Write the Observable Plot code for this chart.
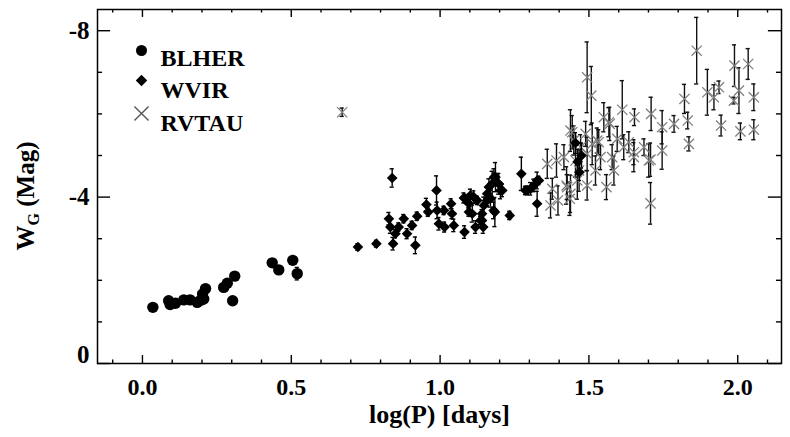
<!DOCTYPE html>
<html>
<head>
<meta charset="utf-8">
<script src="https://cdn.jsdelivr.net/npm/d3@7"></script>
<script src="https://cdn.jsdelivr.net/npm/@observablehq/plot@0.6"></script>
<style>
  html, body { margin: 0; padding: 0; background: #fff; }
  #chart svg { display: block; }
</style>
</head>
<body>
<div id="chart"></div>
<script>
// ---------------- data ----------------
const blherP = [0.035, 0.088, 0.093, 0.111, 0.139, 0.160, 0.184, 0.196, 0.202, 0.206, 0.212, 0.273, 0.285, 0.310, 0.303, 0.436, 0.458, 0.505, 0.520];
const blherW = [-1.35, -1.51, -1.42, -1.45, -1.53, -1.53, -1.47, -1.52, -1.67, -1.55, -1.80, -1.83, -1.93, -2.10, -1.51, -2.42, -2.25, -2.48, -2.16];
const blherE = [0.04, 0.04, 0.04, 0.04, 0.04, 0.04, 0.08, 0.05, 0.05, 0.05, 0.05, 0.05, 0.05, 0.05, 0.06, 0.05, 0.05, 0.05, 0.15];

const wvirP = [0.724, 0.786, 0.839, 0.828, 0.833, 0.842, 0.850, 0.861, 0.878, 0.889, 0.906, 0.917, 0.923, 0.954, 0.960, 0.988, 0.990, 0.996, 1.013, 1.015,
               1.037, 1.040, 1.046, 1.080, 1.082, 1.097, 1.102, 1.108, 1.119, 1.125, 1.141, 1.145, 1.147, 1.158, 1.164, 1.169, 1.180, 1.186, 1.197, 1.203,
               1.234, 1.273, 1.293, 1.304, 1.315, 1.326, 1.326, 1.085, 1.097, 1.113, 1.136, 1.141, 1.158, 1.175, 1.181, 1.184, 1.209, 1.287, 1.332,
               1.455, 1.462, 1.468, 1.475];
const wvirW = [-2.80, -2.88, -4.46, -3.48, -3.28, -2.88, -3.12, -3.28, -3.48, -3.12, -3.32, -2.84, -3.54, -3.82, -3.64, -4.16, -3.68, -3.36, -3.68, -3.28,
               -3.84, -3.60, -3.32, -3.98, -3.16, -3.84, -4.04, -3.60, -3.28, -3.92, -3.44, -3.28, -3.80, -4.08, -4.24, -3.96, -3.68, -4.48, -4.32, -4.16,
               -3.56, -4.56, -4.16, -4.20, -4.28, -4.40, -3.84, -3.96, -3.64, -4.00, -3.44, -3.60, -3.92, -4.32, -4.48, -3.64, -4.16, -4.16, -4.40,
               -5.30, -4.85, -4.60, -5.00];
const wvirE = [0.08, 0.08, 0.22, 0.15, 0.15, 0.15, 0.10, 0.10, 0.10, 0.12, 0.10, 0.20, 0.10, 0.15, 0.10, 0.35, 0.20, 0.15, 0.10, 0.12,
               0.12, 0.12, 0.15, 0.12, 0.15, 0.10, 0.15, 0.20, 0.15, 0.10, 0.15, 0.15, 0.20, 0.15, 0.20, 0.20, 0.20, 0.35, 0.25, 0.20,
               0.10, 0.40, 0.10, 0.15, 0.15, 0.20, 0.30, 0.10, 0.10, 0.15, 0.10, 0.10, 0.15, 0.30, 0.20, 0.35, 0.15, 0.10, 0.10,
               0.25, 0.30, 0.20, 0.30];

const rvtauP = [0.671, 1.360, 1.377, 1.371, 1.391, 1.396, 1.416, 1.425, 1.436, 1.438, 1.449, 1.455, 1.461, 1.467, 1.472, 1.489, 1.494, 1.508, 1.494, 1.494,
                1.522, 1.528, 1.539, 1.550, 1.559, 1.570, 1.578, 1.584, 1.595, 1.612, 1.617, 1.634, 1.651, 1.653, 1.685, 1.709, 1.707, 1.707, 1.746, 1.746,
                1.786, 1.821, 1.832, 1.836, 1.862, 1.898, 1.920, 1.937, 1.944, 1.987, 1.989, 2.004, 2.009, 2.035, 2.054, 2.054,
                1.427, 1.438, 1.444, 1.511, 1.533, 1.567, 1.701, 1.651];
const rvtauW = [-6.04, -4.80, -4.20, -3.80, -4.88, -3.92, -4.96, -4.28, -3.96, -5.60, -5.36, -4.88, -4.40, -4.64, -5.20, -5.52, -6.88, -6.44, -4.28, -5.04,
                -4.64, -5.36, -4.96, -5.92, -4.24, -5.76, -4.96, -4.64, -5.40, -6.10, -5.20, -5.32, -5.08, -5.92, -5.20, -6.00, -4.90, -3.85, -5.68, -5.12,
                -5.76, -6.36, -5.84, -5.28, -7.52, -6.52, -6.40, -6.64, -5.72, -6.32, -7.16, -6.56, -5.58, -7.20, -6.40, -5.62,
                -4.24, -4.08, -5.56, -5.28, -5.32, -5.80, -4.88, -4.96];
const rvtauE = [0.10, 0.35, 0.25, 0.30, 0.40, 0.35, 0.30, 0.45, 0.40, 0.50, 0.35, 0.40, 0.45, 0.50, 0.30, 0.30, 0.85, 0.70, 0.35, 0.40,
                0.35, 0.30, 0.30, 0.35, 0.30, 0.40, 0.30, 0.35, 0.30, 0.70, 0.30, 0.25, 0.30, 0.20, 0.20, 0.40, 0.40, 0.50, 0.40, 0.45,
                0.20, 0.35, 0.20, 0.17, 0.80, 0.55, 0.30, 0.15, 0.25, 0.08, 0.50, 0.55, 0.20, 0.37, 0.32, 0.24,
                0.30, 0.45, 0.40, 0.50, 0.30, 0.35, 0.40, 0.35];

const xMajorTicks = [0, 0.5, 1.0, 1.5, 2.0];
const xMinorTicks = [-0.1, 0.1, 0.2, 0.3, 0.4, 0.6, 0.7, 0.8, 0.9, 1.1, 1.2, 1.3, 1.4, 1.6, 1.7, 1.8, 1.9, 2.1];
const yMajorTicks = [-8, -4, 0];
const yMinorTicks = [-7, -6, -5, -3, -2, -1];
const legendLabels = ["BLHER", "WVIR", "RVTAU"];
const xTitle = "log(P) [days]";

// ---------------- build tables ----------------
const mk = (P, W, E) => P.map((p, i) => ({p, w: W[i], e: E[i]}));
const blher = mk(blherP, blherW, blherE);
const wvir = mk(wvirP, wvirW, wvirE);
const rvtau = mk(rvtauP, rvtauW, rvtauE);

const xDomain = [-0.151, 2.147];
const yDomain = [0, -8.51];
const capHalf = 0.007;     // half width of error-bar caps (x units)
const xTickMaj = 0.19, xTickMin = 0.085;   // lengths in y units
const yTickMaj = 0.044, yTickMin = 0.017;  // lengths in x units

const FONT = "'Liberation Serif', 'Times New Roman', serif";

function errMarks(data, stroke) {
  return [
    Plot.ruleX(data, {x: "p", y1: d => d.w - d.e, y2: d => d.w + d.e, stroke, strokeWidth: 1.4}),
    Plot.ruleY(data, {y: d => d.w - d.e, x1: d => d.p - capHalf, x2: d => d.p + capHalf, stroke, strokeWidth: 1.4}),
    Plot.ruleY(data, {y: d => d.w + d.e, x1: d => d.p - capHalf, x2: d => d.p + capHalf, stroke, strokeWidth: 1.4})
  ];
}

const legendText = (i) => Plot.text([legendLabels[i]], {
  frameAnchor: "top-left", dx: 63, dy: [39, 71, 104][i], text: d => d, textAnchor: "start",
  fontSize: 24, fontWeight: "bold", fill: "#000"
});

const plot = Plot.plot({
  width: 790,
  height: 437,
  marginLeft: 97,
  marginRight: 9,
  marginTop: 9,
  marginBottom: 74,
  style: {fontFamily: FONT, background: "#fff", overflow: "visible"},
  x: {domain: xDomain, axis: null},
  y: {domain: yDomain, axis: null},
  marks: [
    // ticks (inward) on all four sides
    Plot.ruleX(xMajorTicks, {x: d => d, y1: yDomain[0], y2: yDomain[0] - xTickMaj, stroke: "#000", strokeWidth: 1.4}),
    Plot.ruleX(xMinorTicks, {x: d => d, y1: yDomain[0], y2: yDomain[0] - xTickMin, stroke: "#000", strokeWidth: 1.4}),
    Plot.ruleX(xMajorTicks, {x: d => d, y1: yDomain[1], y2: yDomain[1] + xTickMaj, stroke: "#000", strokeWidth: 1.4}),
    Plot.ruleX(xMinorTicks, {x: d => d, y1: yDomain[1], y2: yDomain[1] + xTickMin, stroke: "#000", strokeWidth: 1.4}),
    Plot.ruleY(yMajorTicks, {y: d => d, x1: xDomain[0], x2: xDomain[0] + yTickMaj, stroke: "#000", strokeWidth: 1.4}),
    Plot.ruleY(yMinorTicks, {y: d => d, x1: xDomain[0], x2: xDomain[0] + yTickMin, stroke: "#000", strokeWidth: 1.4}),
    Plot.ruleY(yMajorTicks, {y: d => d, x1: xDomain[1], x2: xDomain[1] - yTickMaj, stroke: "#000", strokeWidth: 1.4}),
    Plot.ruleY(yMinorTicks, {y: d => d, x1: xDomain[1], x2: xDomain[1] - yTickMin, stroke: "#000", strokeWidth: 1.4}),

    // tick labels
    Plot.text(xMajorTicks, {x: d => d, frameAnchor: "bottom", dy: 31, text: d => d3.format(".1f")(d),
      fontSize: 24, fontWeight: "bold", fill: "#000"}),
    Plot.text(yMajorTicks.filter(d => d !== 0), {y: d => d, frameAnchor: "left", dx: -8, textAnchor: "end",
      text: d => String(d), fontSize: 25, fontWeight: "bold", fill: "#000"}),
    Plot.text(yMajorTicks.filter(d => d === 0), {y: d => d, frameAnchor: "left", dx: -8, dy: -9, textAnchor: "end",
      text: d => String(d), fontSize: 25, fontWeight: "bold", fill: "#000"}),

    // x axis title
    Plot.text([xTitle], {frameAnchor: "bottom", dy: 59, text: d => d, fontSize: 26, fontWeight: "bold", fill: "#000"}),

    // data: RVTAU
    ...errMarks(rvtau, "#111"),
    Plot.dot(rvtau, {x: "p", y: "w", symbol: "times", r: 4.7, stroke: "#808080", strokeWidth: 1.3}),
    // WVIR
    ...errMarks(wvir, "#000"),
    Plot.dot(wvir, {x: "p", y: "w", symbol: "diamond2", r: 4.8, fill: "#000", stroke: "none"}),
    // BLHER
    ...errMarks(blher, "#000"),
    Plot.dot(blher, {x: "p", y: "w", symbol: "circle", r: 5.7, fill: "#000", stroke: "none"}),

    // legend
    Plot.dot([legendLabels[0]], {frameAnchor: "top-left", dx: 44, dy: 41, symbol: "circle", r: 5.5, fill: "#000"}),
    Plot.dot([legendLabels[1]], {frameAnchor: "top-left", dx: 44, dy: 71, symbol: "diamond2", r: 5.2, fill: "#000"}),
    Plot.dot([legendLabels[2]], {frameAnchor: "top-left", dx: 44, dy: 104, symbol: "times", r: 6.5, stroke: "#555", strokeWidth: 1.4}),
    legendText(0), legendText(1), legendText(2),

    Plot.frame({stroke: "#000", strokeWidth: 1.5})
  ]
});

document.getElementById("chart").appendChild(plot);

// y-axis title with subscript (W_G (Mag))
{
  const svg = d3.select(plot);
  const t = svg.append("text")
    .attr("transform", "translate(34,196) rotate(-90)")
    .attr("text-anchor", "middle")
    .attr("font-family", FONT)
    .attr("font-weight", "bold")
    .attr("font-size", 25)
    .attr("fill", "#000");
  t.append("tspan").text("W");
  t.append("tspan").attr("font-size", 16).attr("dy", 5).text("G");
  t.append("tspan").attr("dy", -5).text(" (Mag)");
}
</script>
</body>
</html>
